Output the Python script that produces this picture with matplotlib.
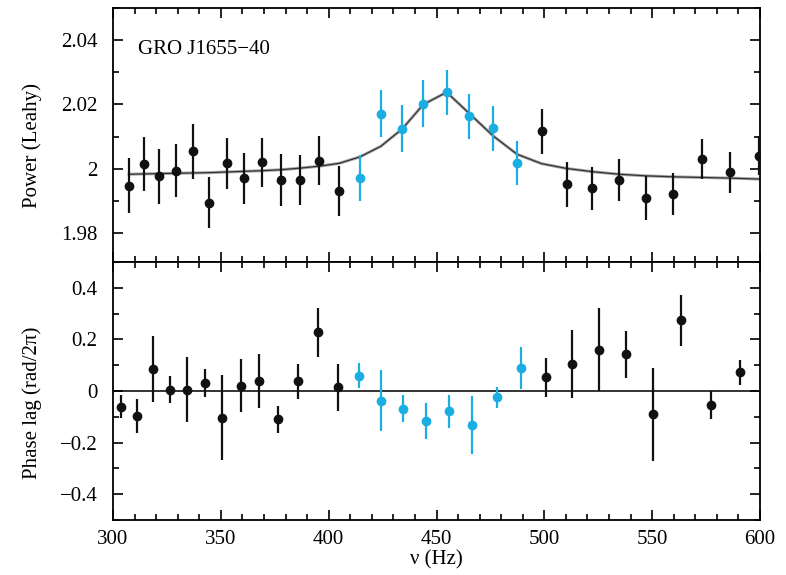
import matplotlib
matplotlib.use('Agg')
import matplotlib.pyplot as plt
from matplotlib.ticker import MultipleLocator, FuncFormatter
import numpy as np

plt.rcParams['font.family'] = ['Liberation Serif', 'DejaVu Serif']

# ---- power spectrum (top) ----
freq_pow = [307.4, 314.4, 321.5, 329.2, 336.9, 344.6, 352.7, 360.7, 369.2, 377.9,
            386.7, 395.6, 404.9, 414.5, 424.2, 434.1, 443.9, 454.7, 465.2, 476.3,
            487.4, 498.7, 510.3, 522.2, 534.6, 547.1, 559.8, 572.9, 586.0, 599.6]
power = [1.9947, 2.0015, 1.9976, 1.9994, 2.0054, 1.9895, 2.0017, 1.9970, 2.0020, 1.9965,
         1.9965, 2.0025, 1.9931, 1.9971, 2.0171, 2.0124, 2.0202, 2.0238, 2.0163, 2.0126,
         2.0017, 2.0117, 1.9952, 1.9940, 1.9965, 1.9908, 1.9921, 2.0030, 1.9989, 2.0041]
power_err = [0.0086, 0.0085, 0.0085, 0.0082, 0.0085, 0.0080, 0.0080, 0.0080, 0.0076, 0.0080,
             0.0077, 0.0076, 0.0077, 0.0072, 0.0073, 0.0073, 0.0073, 0.0070, 0.0070, 0.0070,
             0.0068, 0.0070, 0.0070, 0.0067, 0.0066, 0.0068, 0.0065, 0.0062, 0.0063, 0.0060]
# fitted model read at each bin
model = [1.9983, 1.9984, 1.9985, 1.9986, 1.9987, 1.9988, 1.9990, 1.9992, 1.9994, 1.9997,
         2.0002, 2.0008, 2.0017, 2.0037, 2.0070, 2.0124, 2.0200, 2.0238, 2.0172, 2.0102,
         2.0045, 2.0016, 2.0001, 1.9991, 1.9983, 1.9978, 1.9975, 1.9973, 1.9971, 1.9968]

# ---- phase lag (bottom) ----
freq_lag = [303.7, 311.3, 318.7, 326.4, 334.4, 342.7, 350.7, 359.2, 367.8, 376.6,
            385.6, 395.2, 404.5, 414.2, 424.2, 434.3, 445.1, 455.8, 466.3, 477.9,
            489.2, 500.7, 512.6, 525.3, 537.7, 550.5, 563.6, 577.1, 590.7]
lag = [-0.061, -0.096, 0.086, 0.005, 0.005, 0.030, -0.103, 0.021, 0.038, -0.109,
       0.038, 0.227, 0.014, 0.060, -0.038, -0.068, -0.118, -0.079, -0.133, -0.025,
       0.089, 0.053, 0.103, 0.160, 0.142, -0.090, 0.275, -0.055, 0.073]
lag_err = [0.045, 0.065, 0.128, 0.052, 0.125, 0.055, 0.164, 0.103, 0.104, 0.052,
           0.068, 0.096, 0.091, 0.049, 0.118, 0.052, 0.070, 0.063, 0.112, 0.041,
           0.083, 0.075, 0.132, 0.160, 0.092, 0.180, 0.099, 0.054, 0.049]

qpo_bins = range(13, 21)   # bins in the QPO, plotted in cyan

black = '#111111'
cyan = '#1aaee3'

fig = plt.figure(figsize=(7.86, 5.75), dpi=100)
ax1 = fig.add_axes([0.1438, 0.5443, 0.8231, 0.4418])
ax2 = fig.add_axes([0.1438, 0.0957, 0.8231, 0.4486])


def split(xs, ys, es):
    inq = [i in qpo_bins for i in range(len(xs))]
    a = [(x, y, e) for x, y, e, q in zip(xs, ys, es, inq) if not q]
    b = [(x, y, e) for x, y, e, q in zip(xs, ys, es, inq) if q]
    return list(zip(*a)), list(zip(*b))


def draw(ax, xs, ys, es):
    out, inn = split(xs, ys, es)
    for (x, y, e), c in ((out, black), (inn, cyan)):
        ax.errorbar(x, y, yerr=e, fmt='o', color=c, ms=6, elinewidth=1.6,
                    capsize=0, zorder=3)


# top panel
ax1.plot(freq_pow, model, color='#aaaaaa', lw=2.2, zorder=2)
ax1.plot(freq_pow, model, color='#333333', lw=0.9, zorder=2)
draw(ax1, freq_pow, power, power_err)
ax1.set_xlim(300, 600)
ax1.set_ylim(1.971, 2.050)
ax1.yaxis.set_major_locator(MultipleLocator(0.02))
ax1.yaxis.set_minor_locator(MultipleLocator(0.01))
ax1.yaxis.set_major_formatter(FuncFormatter(lambda v, p: f'{v:g}'))
ax1.set_ylabel('Power (Leahy)', fontsize=15)
ax1.yaxis.set_label_coords(-0.110, 0.457)
ax1.text(0.038, 0.835, 'GRO J1655\u221240', transform=ax1.transAxes,
         fontsize=15, ha='left', va='center')
ax1.tick_params(labelbottom=False)

# bottom panel
ax2.axhline(0, color=black, lw=1.2, zorder=1)
draw(ax2, freq_lag, lag, lag_err)
ax2.set_xlim(300, 600)
ax2.set_ylim(-0.5, 0.5)
ax2.yaxis.set_major_locator(MultipleLocator(0.2))
ax2.yaxis.set_minor_locator(MultipleLocator(0.1))
ax2.yaxis.set_major_formatter(FuncFormatter(lambda v, p: f'{v:g}'.replace('-', '\u2212')))
ax2.set_ylabel('Phase lag (rad/2\u03c0)', fontsize=15)
ax2.yaxis.set_label_coords(-0.110, 0.453)
ax2.set_xlabel('\u03bd (Hz)', fontsize=15, labelpad=1)

for ax in (ax1, ax2):
    ax.xaxis.set_major_locator(MultipleLocator(50))
    ax.xaxis.set_minor_locator(MultipleLocator(10))
    ax.tick_params(which='both', direction='in', top=True, right=True,
                   labelsize=15, width=1.2)
    ax.tick_params(axis='x', pad=7)
    ax.tick_params(axis='y', pad=11)
    ax.tick_params(which='major', length=7)
    ax.tick_params(which='minor', length=4)
    for s in ax.spines.values():
        s.set_linewidth(1.3)

fig.savefig('out.png', dpi=100)
